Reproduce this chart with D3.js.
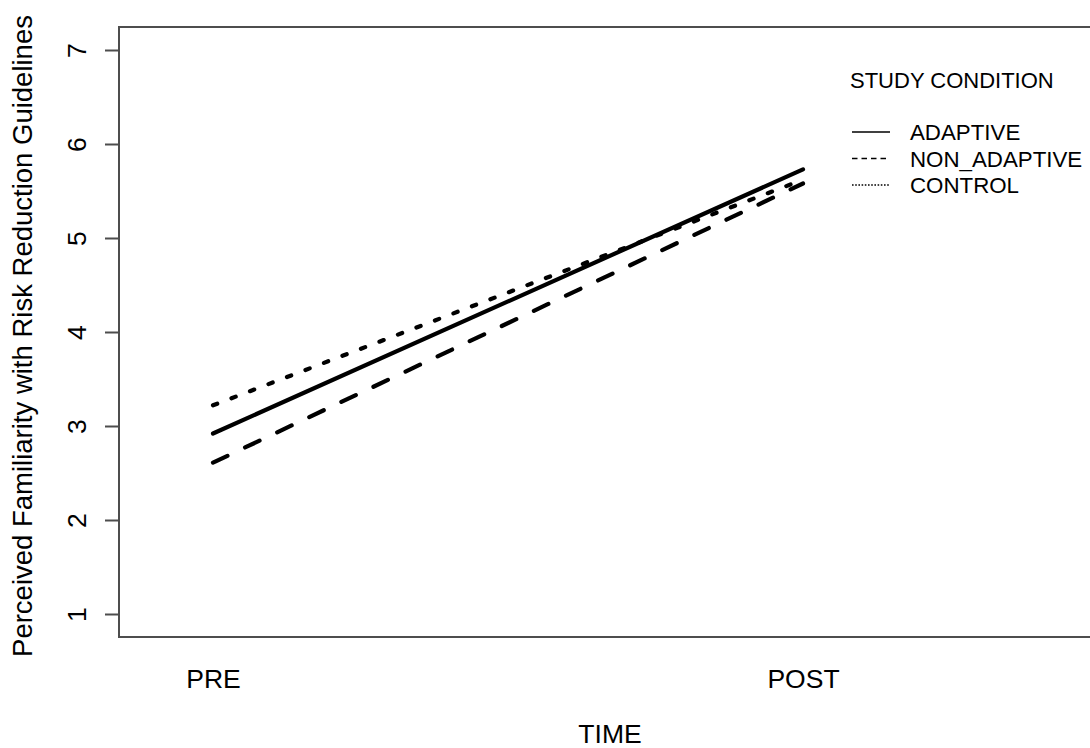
<!DOCTYPE html>
<html><head><meta charset="utf-8">
<script src="https://cdn.jsdelivr.net/npm/d3@7"></script>
<style>body{margin:0;background:#fff}svg{display:block}text{font-family:"Liberation Sans",Arial,sans-serif;fill:#000}</style>
</head><body>
<svg id="c" width="1090" height="748"></svg>
<script>
const categories = ["PRE", "POST"];
const adaptive = [2.92, 5.73];
const nonAdaptive = [2.61, 5.58];
const control = [3.22, 5.62];
const seriesNames = ["ADAPTIVE", "NON_ADAPTIVE", "CONTROL"];
const yTicks = [1, 2, 3, 4, 5, 6, 7];
const xTitle = "TIME";
const yTitle = "Perceived Familiarity with Risk Reduction Guidelines";
const legendTitle = "STUDY CONDITION";

const svg = d3.select("#c");
const box = {left: 119, top: 27, right: 1096, bottom: 637};
const x = d3.scalePoint().domain(categories).range([213, 803]);
const y = d3.scaleLinear().domain([1, 7]).range([614, 50]);

// plot box
svg.append("rect").attr("x", box.left).attr("y", box.top)
  .attr("width", box.right - box.left).attr("height", box.bottom - box.top)
  .attr("fill", "none").attr("stroke", "#4d4d4d").attr("stroke-width", 2);

// y axis
const ya = svg.append("g").attr("transform", `translate(${box.left},0)`)
  .call(d3.axisLeft(y).tickValues(yTicks).tickSize(14).tickFormat(d3.format("d")));
ya.select(".domain").remove();
ya.selectAll(".tick line").attr("stroke", "#4d4d4d").attr("stroke-width", 2);
ya.selectAll(".tick text").attr("x", null).attr("dy", null)
  .attr("transform", "translate(-42,0) rotate(-90)")
  .attr("text-anchor", "middle").attr("dominant-baseline", "central")
  .style("font-size", "26.5px").style("font-family", '"Liberation Sans",Arial,sans-serif').attr("fill", "#000");

// x axis labels
const xa = svg.append("g").attr("transform", `translate(0,${box.bottom})`)
  .call(d3.axisBottom(x).tickSize(0).tickPadding(0));
xa.select(".domain").remove();
xa.selectAll(".tick text").attr("y", 51).attr("dy", null)
  .style("font-size", "26.5px").style("font-family", '"Liberation Sans",Arial,sans-serif').attr("fill", "#000");

// axis titles
svg.append("text").attr("x", 610).attr("y", 743).attr("text-anchor", "middle")
  .style("font-size", "26.5px").text(xTitle);
svg.append("text").attr("transform", "translate(32,336) rotate(-90)").attr("text-anchor", "middle")
  .style("font-size", "27.5px").text(yTitle);

// lines
const styles = [
  {dash: null, cap: "round"},
  {dash: "16,19.5", cap: "round"},
  {dash: "4.5,15.3", cap: "round"}
];
const data = [adaptive, nonAdaptive, control];
const line = d3.line().x((d, i) => x(categories[i])).y(d => y(d));
data.forEach((vals, k) => {
  svg.append("path").datum(vals).attr("d", line)
    .attr("fill", "none").attr("stroke", "#000").attr("stroke-width", 4.2)
    .attr("stroke-linecap", styles[k].cap)
    .attr("stroke-dasharray", styles[k].dash);
});

// legend
svg.append("text").attr("x", 850).attr("y", 88).style("font-size", "22px").text(legendTitle);
const legDash = [null, "5.5,4", "1.6,1.6"];
seriesNames.forEach((name, k) => {
  const ly = 132 + k * 26.5;
  svg.append("line").attr("x1", 852).attr("x2", 890).attr("y1", ly).attr("y2", ly)
    .attr("stroke", "#000").attr("stroke-width", 1.5).attr("stroke-dasharray", legDash[k]);
  svg.append("text").attr("x", 910).attr("y", ly + 8).style("font-size", "22.3px").text(name);
});
</script>
</body></html>
